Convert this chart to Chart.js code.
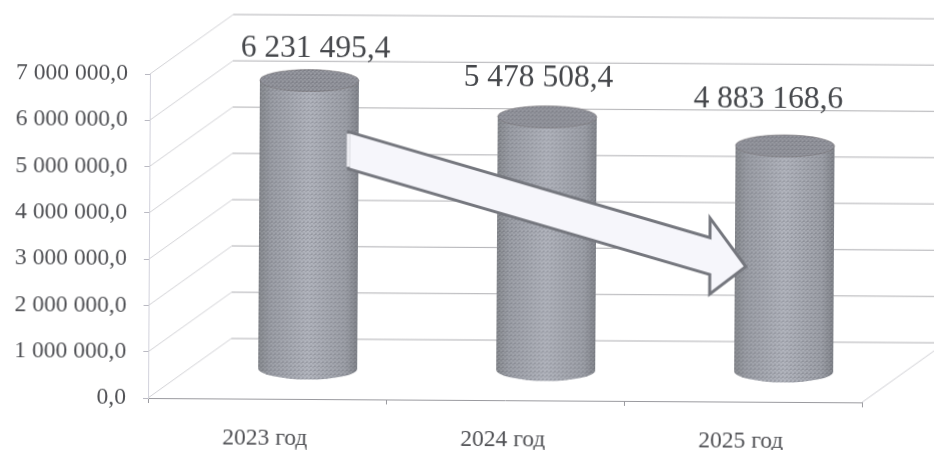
<!DOCTYPE html>
<html>
<head>
<meta charset="utf-8">
<style>
    html, body { margin: 0; background: #fff; overflow: hidden; }
    #budgetChart { display: block; transform-origin: 148px 398px; transform: rotate(0.35deg); filter: blur(0.5px); }
</style>
</head>
<body>
<canvas id="budgetChart" width="934" height="450"></canvas>
<script src="https://cdn.jsdelivr.net/npm/chart.js@4"></script>
<script>
const categories = ['2023 год', '2024 год', '2025 год'];
const values = [6231495.4, 5478508.4, 4883168.6];
const yTickValues = [0, 1000000, 2000000, 3000000, 4000000, 5000000, 6000000, 7000000];
const yTickLabels = ['0,0', '1 000 000,0', '2 000 000,0', '3 000 000,0', '4 000 000,0', '5 000 000,0', '6 000 000,0', '7 000 000,0'];

const SERIF = '"Liberation Serif", serif';
// offset of the back wall from the front plane
const DEPTH_X = 83;
const DEPTH_Y = 60;
// cylinders do not stand exactly in the middle of the depth
const BAR_SHIFT_X = 40.5;
const BAR_SHIFT_Y = 30;
const CAP_RY = 11;
// the value labels were dragged by hand in the original, so each has its own shift
const labelShift = [[6, -32], [-9, -39], [-17, -46]];

function formatValue(v) {
    const [whole, frac] = v.toFixed(1).split('.');
    return whole.replace(/\B(?=(\d{3})+$)/g, ' ') + ',' + frac;
}

function bodyGradient(ctx, cx, halfWidth) {
    const g = ctx.createLinearGradient(cx - halfWidth, 0, cx + halfWidth, 0);
    g.addColorStop(0, '#84878c');
    g.addColorStop(0.12, '#989ba3');
    g.addColorStop(0.5, '#aeb1ba');
    g.addColorStop(0.88, '#999ca4');
    g.addColorStop(1, '#7f8289');
    return g;
}

// scan-like grain over the cylinders
function grainPattern(ctx) {
    const tile = document.createElement('canvas');
    tile.width = 4;
    tile.height = 4;
    const t = tile.getContext('2d');
    t.fillStyle = 'rgba(60, 60, 70, 0.22)';
    t.fillRect(0, 0, 1, 1);
    t.fillRect(2, 2, 1, 1);
    t.fillRect(1, 3, 2, 1);
    t.fillStyle = 'rgba(255, 255, 255, 0.16)';
    t.fillRect(2, 0, 1, 1);
    t.fillRect(0, 2, 1, 1);
    return ctx.createPattern(tile, 'repeat');
}

// side wall, floor and back wall
const wallsPlugin = {
    id: 'walls',
    beforeDatasetsDraw(chart) {
        const { ctx, chartArea, scales } = chart;
        ctx.save();
        ctx.lineWidth = 1;
        yTickValues.forEach(v => {
            const y = scales.y.getPixelForValue(v);
            ctx.strokeStyle = '#d2d2d6';
            ctx.beginPath();
            ctx.moveTo(chartArea.left, y);
            ctx.lineTo(chartArea.left + DEPTH_X, y - DEPTH_Y);
            ctx.stroke();
            ctx.strokeStyle = '#b0b0b4';
            ctx.beginPath();
            ctx.moveTo(chartArea.left + DEPTH_X, y - DEPTH_Y);
            ctx.lineTo(chart.width + 10, y - DEPTH_Y);
            ctx.stroke();
        });
        const y0 = scales.y.getPixelForValue(0);
        ctx.strokeStyle = '#cfcfd4';
        ctx.beginPath();
        ctx.moveTo(chartArea.right, y0);
        ctx.lineTo(chartArea.right + DEPTH_X, y0 - DEPTH_Y);
        ctx.stroke();
        ctx.restore();
    }
};

// moves the library's bars into the depth and turns them into cylinders
const cylinderPlugin = {
    id: 'cylinder',
    beforeDatasetDraw(chart, args) {
        const { ctx } = chart;
        ctx.save();
        ctx.translate(BAR_SHIFT_X, -BAR_SHIFT_Y);
        args.meta.data.forEach(bar => {
            ctx.fillStyle = bodyGradient(ctx, bar.x, bar.width / 2);
            ctx.beginPath();
            ctx.ellipse(bar.x, bar.base, bar.width / 2, CAP_RY, 0, 0, Math.PI * 2);
            ctx.fill();
        });
    },
    afterDatasetDraw(chart, args) {
        const { ctx } = chart;
        const grain = grainPattern(ctx);
        args.meta.data.forEach(bar => {
            const half = bar.width / 2;
            ctx.fillStyle = '#8f9199';
            ctx.beginPath();
            ctx.ellipse(bar.x, bar.y, half, CAP_RY, 0, 0, Math.PI * 2);
            ctx.fill();
            ctx.strokeStyle = 'rgba(120, 116, 120, 0.6)';
            ctx.lineWidth = 1;
            ctx.stroke();

            ctx.fillStyle = grain;
            ctx.beginPath();
            ctx.ellipse(bar.x, bar.base, half, CAP_RY, 0, 0, Math.PI);
            ctx.lineTo(bar.x - half, bar.y);
            ctx.ellipse(bar.x, bar.y, half, CAP_RY, 0, Math.PI, Math.PI * 2);
            ctx.closePath();
            ctx.fill();
        });
        ctx.restore();
    }
};

// big arrow from the first cylinder to the last, plus the value labels
const overlayPlugin = {
    id: 'overlay',
    afterDatasetsDraw(chart) {
        const { ctx } = chart;
        const bars = chart.getDatasetMeta(0).data;

        const tailX = bars[0].x + BAR_SHIFT_X + 39.5;
        const tailY = bars[0].y - BAR_SHIFT_Y + 69.5;
        const tipX = bars[2].x + BAR_SHIFT_X - 38.5;
        const tipY = bars[2].y - BAR_SHIFT_Y + 121;
        const neckX = tipX - 36;
        const neckY = tailY + (tipY - tailY) * (neckX - tailX) / (tipX - tailX);
        const shaft = 18.5;
        const head = 38;

        ctx.save();
        ctx.beginPath();
        ctx.moveTo(tailX, tailY - shaft);
        ctx.lineTo(neckX, neckY - shaft);
        ctx.lineTo(neckX, neckY - head);
        ctx.lineTo(tipX, tipY);
        ctx.lineTo(neckX, neckY + head);
        ctx.lineTo(neckX, neckY + shaft);
        ctx.lineTo(tailX, tailY + shaft);
        ctx.closePath();
        ctx.fillStyle = '#f6f6fb';
        ctx.fill();
        ctx.strokeStyle = '#75777e';
        ctx.lineWidth = 3;
        ctx.lineJoin = 'miter';
        ctx.stroke();
        // tail end of the arrow has almost no outline
        ctx.strokeStyle = '#eeeef3';
        ctx.lineWidth = 3.5;
        ctx.beginPath();
        ctx.moveTo(tailX, tailY - shaft + 2);
        ctx.lineTo(tailX, tailY + shaft - 2);
        ctx.stroke();

        ctx.fillStyle = '#45474b';
        ctx.font = '31.5px ' + SERIF;
        ctx.textAlign = 'center';
        ctx.textBaseline = 'middle';
        bars.forEach((bar, i) => {
            const x = bar.x + BAR_SHIFT_X + labelShift[i][0];
            const y = bar.y - BAR_SHIFT_Y + labelShift[i][1];
            ctx.fillText(formatValue(values[i]), x, y);
        });
        ctx.restore();
    }
};

document.addEventListener('DOMContentLoaded', () => {
    const ctx = document.getElementById('budgetChart').getContext('2d');
    new Chart(ctx, {
        type: 'bar',
        data: {
            labels: categories,
            datasets: [{
                data: values,
                clip: false,
                barPercentage: 0.416,
                categoryPercentage: 1,
                backgroundColor: c => {
                    const xScale = c.chart.scales.x;
                    if (!xScale || !c.chart.chartArea) return '#a0a3ae';
                    return bodyGradient(c.chart.ctx, xScale.getPixelForValue(c.dataIndex), 49.5);
                }
            }]
        },
        options: {
            responsive: false,
            animation: false,
            layout: { padding: { top: 74, right: 72, bottom: 0, left: 0 } },
            plugins: { legend: { display: false }, tooltip: { enabled: false } },
            scales: {
                x: {
                    afterFit: scale => { scale.height = 52; },
                    border: { color: '#9a9a9f', width: 1 },
                    grid: { drawOnChartArea: false, offset: true, tickLength: 5, color: '#9a9a9f' },
                    ticks: { color: '#505155', padding: 21, labelOffset: -2, font: { family: SERIF, size: 23.5 } }
                },
                y: {
                    min: 0,
                    max: 7000000,
                    afterFit: scale => { scale.width = 148; },
                    border: { color: '#d2d2dc', width: 1 },
                    grid: { drawOnChartArea: false, tickLength: 5, color: '#b9b9c2' },
                    ticks: {
                        stepSize: 1000000,
                        color: '#505155',
                        padding: 17,
                        font: { family: SERIF, size: 23.6 },
                        callback: (value, index) => yTickLabels[index]
                    }
                }
            }
        },
        plugins: [wallsPlugin, cylinderPlugin, overlayPlugin]
    });
});
</script>
</body>
</html>
